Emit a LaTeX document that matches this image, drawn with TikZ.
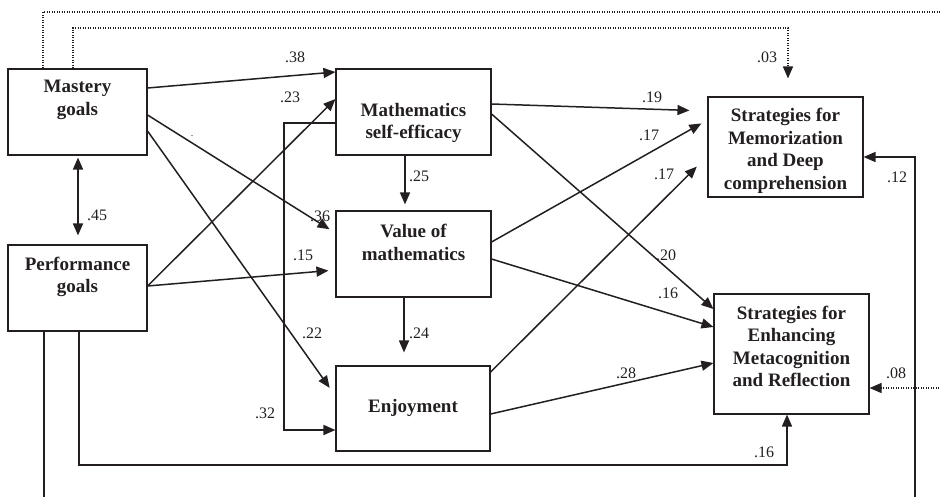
\documentclass[tikz,border=0pt]{standalone}
\usepackage{fontspec}
\setmainfont{Liberation Serif}
\usetikzlibrary{arrows.meta,calc}
\definecolor{ink}{HTML}{231F20}
\begin{document}
\begin{tikzpicture}[x=1pt,y=-1pt,
  box/.style={draw=ink,line width=1.1pt,inner sep=0pt,rectangle},
  btxt/.style={text=ink,font=\bfseries\fontsize{19}{22.5}\selectfont,align=center,inner sep=0pt},
  lbl/.style={text=ink,font=\fontsize{16}{18}\selectfont,inner sep=0pt},
  conn/.style={draw=ink,line width=1.5pt,-{Triangle[length=12pt,width=10pt]}},
  dotline/.style={conn,line width=1.3pt,dash pattern=on 1.2pt off 1.3pt}]
\useasboundingbox (0,0) rectangle (940,496);
% boxes
\node[box,minimum width=139pt,minimum height=86pt] (mg) at (77.5,112) {};
\node[box,minimum width=139pt,minimum height=86pt] (pg) at (77.5,288) {};
\node[box,minimum width=155pt,minimum height=86pt] (se) at (413.5,112) {};
\node[box,minimum width=155pt,minimum height=86pt] (vm) at (413.5,254) {};
\node[box,minimum width=154pt,minimum height=85pt] (en) at (413,408.5) {};
\node[box,minimum width=155pt,minimum height=100pt] (mem) at (785.5,147) {};
\node[box,minimum width=155pt,minimum height=120pt] (meta) at (791.5,354) {};
% box texts
\node[btxt] (mgt) at (77.5,100) {Mastery\\goals};
\node[btxt] (pgt) at (77.5,277) {Performance\\goals};
\node[btxt] (set) at (413.5,123) {Mathematics\\self-efficacy};
\node[btxt] (vmt) at (413.5,242.5) {Value of\\mathematics};
\node[btxt] (ent) at (413,408) {Enjoyment};
\node[btxt] (memt) at (785.5,151) {Strategies for\\Memorization\\and Deep\\comprehension};
\node[btxt] (metat) at (791.5,346.5) {Strategies for\\Enhancing\\Metacognition\\and Reflection};
% connectors
\draw[conn] (mg.east |- 0,88) -- (se.west |- 0,72);
\draw[conn] (pg.east |- 0,286) -- (se.west |- 0,99);
\draw[conn,shorten >=7pt] (mg.east |- 0,115) -- (vm.west |- 0,233);
\draw[conn,shorten >=7pt] (pg.east |- 0,286) -- (vm.west |- 0,270);
\draw[conn,shorten >=10pt] (mg.east |- 0,131) -- (en.west |- 0,396);
\draw[conn,shorten >=6pt] (405,0 |- se.south) -- (405,0 |- vm.north);
\draw[conn,shorten >=13pt] (404,0 |- vm.south) -- (404,0 |- en.north);
\draw[conn] (se.west |- 0,123) -- (284,123) -- (284,430) -- (en.west |- 0,430);
\draw[conn,shorten >=18pt] (se.east |- 0,104) -- (mem.west |- 0,111);
\draw[conn,shorten >=7pt] (vm.east |- 0,242) -- (mem.west |- 0,120);
\draw[conn,shorten >=15pt] (en.east |- 0,372) -- (mem.west |- 0,156);
\draw[conn] (se.east |- 0,114) -- (meta.west |- 0,309);
\draw[conn] (vm.east |- 0,259) -- (meta.west |- 0,327);
\draw[conn] (en.east |- 0,414) -- (meta.west |- 0,363);
\draw[conn] (79,0 |- pg.south) -- (79,465) -- (787,465) -- (787,0 |- meta.south);
\draw[conn] (44,0 |- pg.south) -- (44,502) -- (915,502) -- (915,157) -- (mem.east |- 0,157);
\draw[dotline,shorten >=18pt] (73,0 |- mg.north) -- (73,28) -- (788,28) -- (788,0 |- mem.north);
\draw[dotline] (43,0 |- mg.north) -- (43,12) -- (955,12) -- (955,388) -- (meta.east |- 0,388);
\draw[conn,{Triangle[length=12pt,width=10pt]}-{Triangle[length=12pt,width=10pt]},shorten <=2pt,shorten >=9pt] (78,0 |- mg.south) -- (78,0 |- pg.north);
% labels
\node[lbl] (l38) at (295,57) {.38};
\node[lbl] (l23) at (290,97) {.23};
\node[lbl] (l36) at (320,216) {.36};
\node[lbl] (l15) at (303,255) {.15};
\node[lbl] (l22) at (312,333) {.22};
\node[lbl] (l32) at (265,413) {.32};
\node[lbl] (l25) at (419,176) {.25};
\node[lbl] (l24) at (419,333) {.24};
\node[lbl] (l19) at (652,97) {.19};
\node[lbl] (l17a) at (649,135) {.17};
\node[lbl] (l17b) at (664,174) {.17};
\node[lbl] (l03) at (767,57) {.03};
\node[lbl] (l12) at (897,177) {.12};
\node[lbl] (l20) at (666,255) {.20};
\node[lbl] (l16a) at (668,293) {.16};
\node[lbl] (l28) at (626,373) {.28};
\node[lbl] (l08) at (896,373) {.08};
\node[lbl] (l16b) at (764,452) {.16};
\node[lbl] (l45) at (97,215) {.45};
\node[lbl,font=\fontsize{10}{12}\selectfont] (stray) at (192,136) {.};
\end{tikzpicture}
\end{document}
